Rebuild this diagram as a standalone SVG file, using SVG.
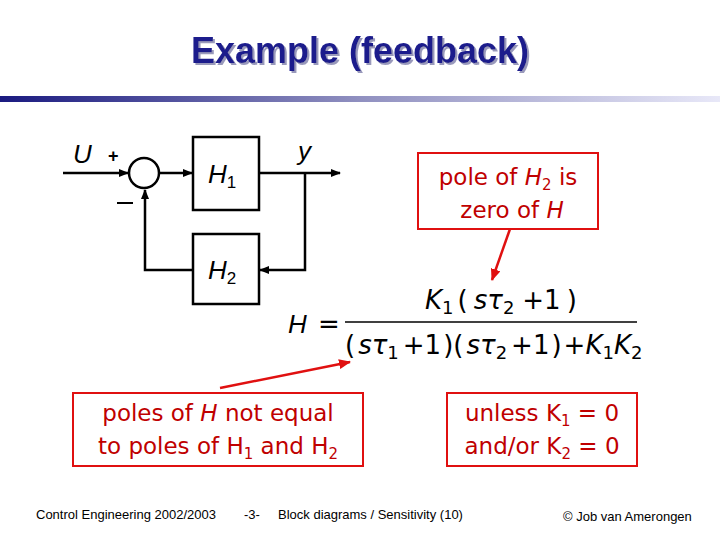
<svg xmlns="http://www.w3.org/2000/svg" width="720" height="540" viewBox="0 0 720 540">
<defs>
<linearGradient id="bar" x1="0" x2="1"><stop offset="0" stop-color="#1a1a80"/><stop offset="0.5" stop-color="#9090c0"/><stop offset="1" stop-color="#e8e8f8"/></linearGradient>
<filter id="sh" x="-5%" y="-20%" width="110%" height="140%"><feDropShadow dx="2" dy="2" stdDeviation="0.5" flood-color="#9999bb"/></filter>
<marker id="ah" markerWidth="10" markerHeight="8" refX="9" refY="4" orient="auto" markerUnits="userSpaceOnUse"><path d="M0,0 L10,4 L0,8 Z" fill="#000"/></marker>
<marker id="rh" markerWidth="12" markerHeight="10" refX="11" refY="5" orient="auto" markerUnits="userSpaceOnUse"><path d="M0,0 L12,5 L0,10 Z" fill="#e01010"/></marker>
<style>
.blk{fill:#fff;stroke:#000;stroke-width:2.5}
.ln{fill:none;stroke:#000;stroke-width:2.5}
.it{font-family:"Liberation Sans",Arial,sans-serif;font-style:italic;font-size:26px}
.call{fill:#fff;stroke:#e01010;stroke-width:2}
.ct{font-family:"DejaVu Sans",Verdana,sans-serif;font-size:23px;fill:#c00000}
.eq{font-family:"DejaVu Sans",sans-serif;font-size:26px}
.ft{font-family:"Liberation Sans",Arial,sans-serif;font-size:13px}
</style>
</defs>
<text x="360" y="63" text-anchor="middle" font-family="Liberation Sans,Arial,sans-serif" font-weight="bold" font-size="36" fill="#1a1a8c" filter="url(#sh)">Example (feedback)</text>
<rect x="0" y="96" width="720" height="6" fill="url(#bar)"/>
<g id="connectors">
<line class="ln" x1="63" y1="173" x2="128" y2="173" marker-end="url(#ah)"/>
<line class="ln" x1="160" y1="173" x2="192" y2="173" marker-end="url(#ah)"/>
<line class="ln" x1="259" y1="173" x2="340" y2="173" marker-end="url(#ah)"/>
<polyline class="ln" points="305,173 305,270 260,270" marker-end="url(#ah)"/>
<polyline class="ln" points="193,270 145,270 145,190" marker-end="url(#ah)"/>
<line x1="220" y1="388" x2="350" y2="362" stroke="#e01010" stroke-width="2.5" marker-end="url(#rh)"/>
<line x1="510" y1="229" x2="492" y2="280" stroke="#e01010" stroke-width="2.5" marker-end="url(#rh)"/>
</g>
<g id="sum"><circle cx="144" cy="173" r="15" class="blk"/></g>
<g id="labels">
<text x="73" y="163" class="it">U</text>
<text x="108" y="162" font-family="Liberation Sans,Arial,sans-serif" font-weight="bold" font-size="18">+</text>
<line x1="117" y1="203" x2="133" y2="203" stroke="#000" stroke-width="2"/>
<text x="298" y="160" class="it">y</text>
</g>
<g id="H1"><rect x="193" y="137" width="66" height="73" class="blk"/><text x="208" y="183" class="it">H<tspan font-size="17" dy="5" font-style="normal">1</tspan></text></g>
<g id="H2"><rect x="193" y="234" width="66" height="70" class="blk"/><text x="208" y="279" class="it">H<tspan font-size="17" dy="5" font-style="normal">2</tspan></text></g>
<g id="formula">
<text x="288" y="333" class="it" font-size="28">H</text>
<text x="318" y="333" class="eq" font-size="22">=</text>
<line x1="345" y1="322" x2="637" y2="322" stroke="#000" stroke-width="1.3"/>
<text x="425" y="309" class="eq"><tspan font-style="italic">K</tspan><tspan font-size="18" dy="5">1</tspan><tspan dy="-5" dx="4">(</tspan><tspan font-style="italic" dx="6">sτ</tspan><tspan font-size="18" dy="5">2</tspan><tspan dy="-5" dx="8">+1</tspan><tspan dx="6">)</tspan></text>
<text x="345" y="354" class="eq">(<tspan font-style="italic" dx="3">sτ</tspan><tspan font-size="18" dy="5">1</tspan><tspan dy="-5" dx="4">+1</tspan><tspan dx="2">)(</tspan><tspan font-style="italic" dx="3">sτ</tspan><tspan font-size="18" dy="5">2</tspan><tspan dy="-5" dx="4">+1</tspan><tspan dx="2">)</tspan><tspan dx="2">+</tspan><tspan font-style="italic">K</tspan><tspan font-size="18" dy="5">1</tspan><tspan font-style="italic" dy="-5">K</tspan><tspan font-size="18" dy="5">2</tspan></text>
</g>
<g id="callout1"><rect x="418" y="153" width="180" height="76" class="call"/>
<text x="508" y="185" text-anchor="middle" class="ct">pole of <tspan font-style="italic">H</tspan><tspan font-size="15" dy="5">2</tspan><tspan dy="-5"> is</tspan></text>
<text x="512" y="218" text-anchor="middle" class="ct">zero of <tspan font-style="italic">H</tspan></text></g>
<g id="callout2"><rect x="73" y="393" width="290" height="73" class="call"/>
<text x="218" y="421" text-anchor="middle" class="ct">poles of <tspan font-style="italic">H</tspan>  not equal</text>
<text x="218" y="454" text-anchor="middle" class="ct">to poles of H<tspan font-size="15" dy="5">1</tspan><tspan dy="-5"> and H</tspan><tspan font-size="15" dy="5">2</tspan></text></g>
<g id="callout3"><rect x="447" y="393" width="190" height="73" class="call"/>
<text x="542" y="421" text-anchor="middle" class="ct">unless K<tspan font-size="15" dy="5">1</tspan><tspan dy="-5"> = 0</tspan></text>
<text x="542" y="454" text-anchor="middle" class="ct">and/or K<tspan font-size="15" dy="5">2</tspan><tspan dy="-5"> = 0</tspan></text></g>
<g id="footer">
<text x="36" y="519" class="ft">Control Engineering 2002/2003</text>
<text x="244" y="519" class="ft">-3-</text>
<text x="278" y="519" class="ft">Block diagrams / Sensitivity  (10)</text>
<text x="563" y="521" class="ft">© Job van Amerongen</text>
</g>
</svg>
